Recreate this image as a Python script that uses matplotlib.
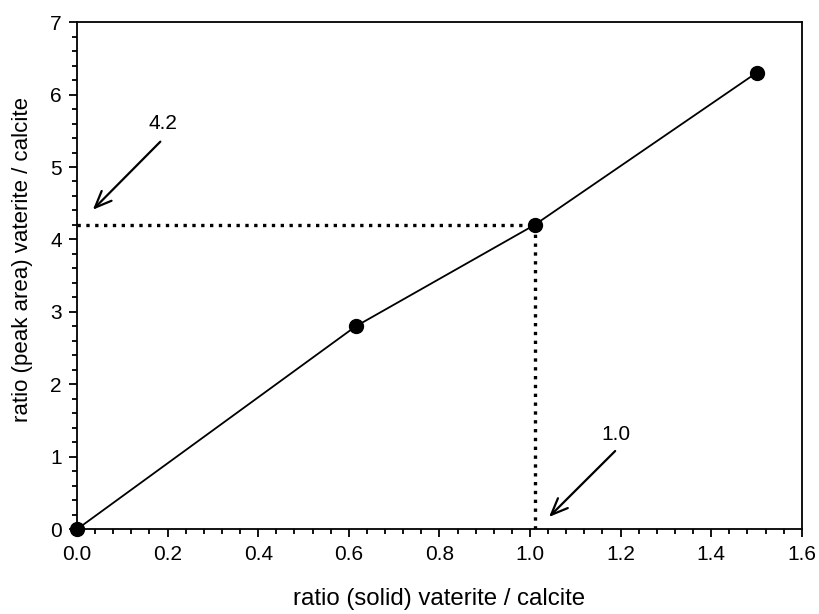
import numpy as np
import matplotlib.pyplot as plt
from matplotlib.ticker import MultipleLocator

plt.rcParams['font.family'] = ['Liberation Sans', 'DejaVu Sans']

# calibration points: solid ratio vs. peak area ratio
solid_ratio = [0.0, 0.615, 1.01, 1.5]
area_ratio = [0.0, 2.8, 4.2, 6.3]

# read-off value
read_x = 1.01
read_y = 4.2

fig = plt.figure(figsize=(8.19, 6.14), dpi=100)
ax = fig.add_axes([0.094, 0.138, 0.885, 0.826])

ax.plot(solid_ratio, area_ratio, color='k', lw=1.3, marker='o', ms=10, zorder=3, clip_on=False)

# dotted guide lines
ax.plot([0, read_x], [read_y, read_y], color='k', ls=':', lw=2.4, zorder=2)
ax.plot([read_x, read_x], [0, read_y], color='k', ls=':', lw=2.4, zorder=2)

arrow = dict(arrowstyle='->,head_length=1.2,head_width=0.5', color='k', lw=1.6, shrinkA=0, shrinkB=0)
ax.annotate('', xy=(0.035, 4.41), xytext=(0.184, 5.35), arrowprops=arrow)
ax.text(0.19, 5.6, '4.2', fontsize=15, ha='center', va='center')
ax.annotate('', xy=(1.042, 0.17), xytext=(1.188, 1.08), arrowprops=arrow)
ax.text(1.19, 1.31, '1.0', fontsize=15, ha='center', va='center')

ax.set_xlim(0, 1.6)
ax.set_ylim(0, 7)
ax.xaxis.set_major_locator(MultipleLocator(0.2))
ax.xaxis.set_minor_locator(MultipleLocator(0.04))
ax.yaxis.set_major_locator(MultipleLocator(1))
ax.yaxis.set_minor_locator(MultipleLocator(0.2))
ax.set_xticklabels([f'{v:.1f}' for v in ax.get_xticks()])
ax.tick_params(which='both', direction='out', top=False, right=False, labelsize=15, width=1.3)
ax.tick_params(which='major', length=6, pad=5)
ax.tick_params(which='minor', length=3.5)
for s in ax.spines.values():
    s.set_linewidth(1.3)

ax.set_xlabel('ratio (solid) vaterite / calcite', fontsize=17.3)
ax.set_ylabel('ratio (peak area) vaterite / calcite', fontsize=16)
ax.xaxis.set_label_coords(0.5, -0.115)
ax.yaxis.set_label_coords(-0.061, 0.532)

fig.savefig('out.png')
